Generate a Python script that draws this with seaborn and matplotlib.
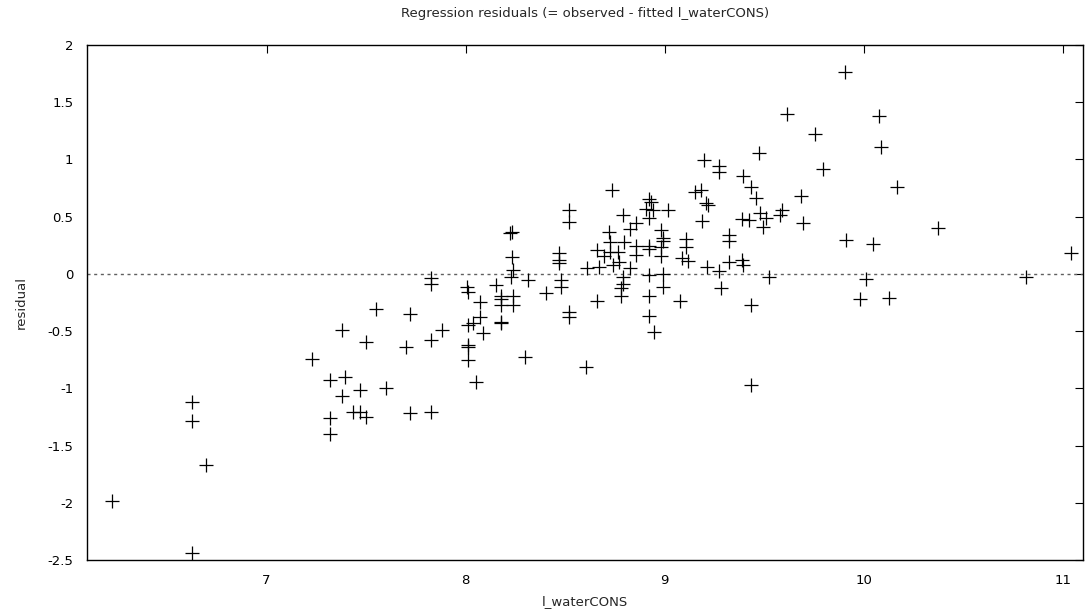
import matplotlib
matplotlib.use("Agg")
import matplotlib.pyplot as plt
import seaborn as sns
import pandas as pd

l_waterCONS = [
    6.222, 6.624, 6.624, 6.694, 6.624,
    7.229, 7.318, 7.396, 7.379, 7.468, 7.602, 7.318, 7.318, 7.435, 7.468, 7.502, 7.719, 7.824,
    7.552, 7.719, 7.381, 7.883, 7.498, 7.699, 7.824,
    8.012, 8.037, 8.070, 8.087, 8.179, 8.179, 8.012, 8.012, 8.012, 8.296, 8.050,
    7.828, 7.828, 8.008, 8.012, 8.070, 8.151, 8.179, 8.179, 8.237, 8.179, 8.237, 8.405,
    8.224, 8.234, 8.232, 8.237, 8.229, 8.313,
    8.470, 8.470, 8.468, 8.480, 8.480, 8.518, 8.518, 8.518, 8.518,
    8.602, 8.661, 8.781, 8.923, 9.077, 9.434, 8.923, 8.948, 9.434,
    9.616, 9.755, 9.472, 9.796, 9.199, 9.271, 9.271, 9.391, 9.434, 9.459, 9.682,
    8.733, 9.152, 9.183, 9.205, 9.215, 8.923, 8.932, 8.907, 8.940, 9.015, 8.923, 8.789,
    9.188, 9.388, 9.425, 9.479, 9.509, 9.495, 9.587, 9.579, 9.696, 8.853, 8.823, 8.719,
    8.982, 8.990, 8.990, 8.982, 9.104, 9.104, 9.321, 9.321, 8.724, 8.793, 8.853, 8.853,
    8.923, 8.923, 8.661, 8.723, 8.697, 8.765, 8.770, 8.982, 9.084, 9.116, 9.321, 9.388,
    9.391, 8.739, 8.823, 8.669, 8.611, 9.211, 9.271, 9.525, 8.923, 8.990, 8.789, 8.789,
    8.781, 8.990, 9.283,
    9.903, 10.074, 10.084, 10.164, 10.373, 9.910, 10.044, 11.042, 10.816, 10.011, 9.980, 10.124,
]

residual = [
    -1.981, -1.121, -1.282, -1.667, -2.442,
    -0.743, -0.927, -0.903, -1.066, -1.014, -0.993, -1.256, -1.401, -1.209, -1.203, -1.253, -1.218, -1.203,
    -0.309, -0.350, -0.490, -0.490, -0.592, -0.635, -0.577,
    -0.446, -0.431, -0.373, -0.518, -0.417, -0.431, -0.621, -0.636, -0.752, -0.723, -0.941,
    -0.035, -0.087, -0.111, -0.160, -0.248, -0.099, -0.190, -0.220, -0.190, -0.271, -0.271, -0.169,
    0.361, 0.367, 0.146, 0.035, -0.029, -0.052,
    0.185, 0.120, 0.095, -0.052, -0.111, -0.329, -0.373, 0.559, 0.452,
    -0.816, -0.236, -0.192, -0.192, -0.233, -0.271, -0.367, -0.504, -0.970,
    1.396, 1.224, 1.055, 0.918, 0.997, 0.944, 0.894, 0.851, 0.763, 0.667, 0.682,
    0.734, 0.714, 0.734, 0.622, 0.605, 0.653, 0.632, 0.565, 0.559, 0.559, 0.487, 0.516,
    0.466, 0.478, 0.472, 0.536, 0.487, 0.413, 0.559, 0.516, 0.448, 0.448, 0.391, 0.370,
    0.385, 0.312, 0.291, 0.239, 0.303, 0.239, 0.341, 0.291, 0.283, 0.283, 0.245, 0.166,
    0.245, 0.216, 0.210, 0.195, 0.157, 0.195, 0.108, 0.157, 0.143, 0.116, 0.102, 0.122,
    0.079, 0.079, 0.050, 0.058, 0.050, 0.064, 0.029, -0.029, -0.009, 0.000, -0.029, -0.087,
    -0.125, -0.111, -0.125,
    1.768, 1.381, 1.113, 0.758, 0.402, 0.297, 0.262, 0.186, -0.023, -0.047, -0.221, -0.213,
]

x_ticks = [7, 8, 9, 10, 11]
x_tick_labels = ["7", "8", "9", "10", "11"]
y_ticks = [-2.5, -2, -1.5, -1, -0.5, 0, 0.5, 1, 1.5, 2]
y_tick_labels = ["-2.5", "-2", "-1.5", "-1", "-0.5", "0", "0.5", "1", "1.5", "2"]

title = "Regression residuals (= observed - fitted l_waterCONS)"
x_label = "l_waterCONS"
y_label = "residual"

df = pd.DataFrame({"l_waterCONS": l_waterCONS, "residual": residual})

sns.set_style("white")
plt.rcParams["font.family"] = ["DejaVu Sans"]

fig = plt.figure(figsize=(10.85, 6.11), dpi=100)
ax = fig.add_axes([87.3 / 1085, 1 - 560 / 611, (1083 - 87.3) / 1085, (560 - 45) / 611])

ax.axhline(0, color="#606060", linestyle=(0, (2.2, 2.6)), linewidth=1.0, zorder=1)

sns.scatterplot(data=df, x="l_waterCONS", y="residual", marker="+", color="black",
                s=100, linewidth=0.9, ax=ax, zorder=3, legend=False)

ax.set_xlim(6.1, 11.1)
ax.set_ylim(-2.5, 2)
ax.set_xticks(x_ticks)
ax.set_xticklabels(x_tick_labels)
ax.set_yticks(y_ticks)
ax.set_yticklabels(y_tick_labels)

ax.tick_params(direction="in", length=6, width=0.8, top=True, right=True,
               labelsize=9.5, colors="black", pad=10)
for sp in ax.spines.values():
    sp.set_color("black")
    sp.set_linewidth(1.0)

ax.set_xlabel(x_label, fontsize=9.5, labelpad=6)
ax.set_ylabel(y_label, fontsize=9.5, labelpad=14)
ax.set_title(title, fontsize=9.5, pad=20)

fig.savefig("out.png", dpi=100)
